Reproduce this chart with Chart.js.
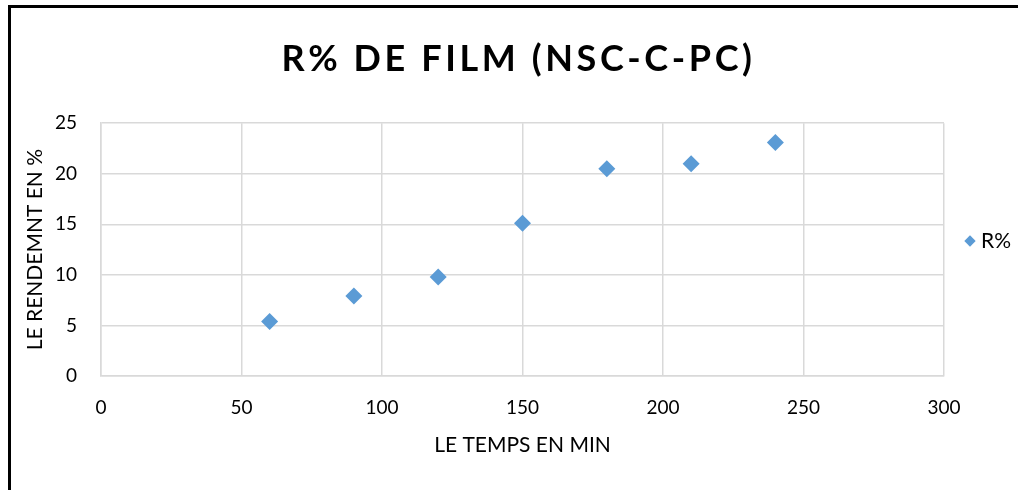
<!DOCTYPE html>
<html>
<head>
<meta charset="utf-8">
<script src="https://cdn.jsdelivr.net/npm/chart.js@4"></script>
<style>
  html, body { margin: 0; padding: 0; background: #fff; }
  #wrap { position: relative; width: 1018px; height: 490px; }
  #frame { position: absolute; left: 8px; top: 5px; right: 0; bottom: 0; border-left: 3px solid #000; border-top: 3px solid #000; }
  canvas { position: absolute; left: 0; top: 0; }
</style>
</head>
<body>
<div id="wrap">
  <div id="frame"></div>
  <canvas id="chart-rendement" width="1018" height="490"></canvas>
</div>
<script>
// data
var temps = [60, 90, 120, 150, 180, 210, 240];      // LE TEMPS EN MIN
var rendement = [5.4, 7.9, 9.8, 15.1, 20.5, 21.0, 23.1]; // R%
var seriesName = 'R%';

var points = temps.map(function (t, i) { return { x: t, y: rendement[i] }; });

// spaced-out title letters + fixed legend width, like the excel chart
var excelLook = {
  id: 'excelLook',
  beforeInit: function (chart) {
    var tb = chart.titleBlock;
    if (tb && !tb._patched) {
      var origDraw = tb.draw.bind(tb);
      tb.draw = function () {
        chart.ctx.save();
        chart.ctx.letterSpacing = '3.6px';
        origDraw();
        chart.ctx.restore();
      };
      tb._patched = true;
    }
    var lg = chart.legend;
    if (lg && !lg._patched) {
      var origFit = lg.fit.bind(lg);
      lg.fit = function () {
        origFit();
        this.width = 74;
      };
      lg._patched = true;
    }
  }
};

var ctx = document.getElementById("chart-rendement").getContext('2d');
var myChart = new Chart(ctx, {
    type: 'scatter',
    data: {
        datasets: [{
            label: seriesName,
            data: points,
            pointStyle: 'rectRot',
            pointRadius: 8.5,
            pointHoverRadius: 8.5,
            backgroundColor: '#5b9bd5',
            borderColor: '#5b9bd5',
            borderWidth: 0,
        }]},
    options: {
      responsive: false,
      animation: false,
      layout: { padding: { left: 19, right: 0, top: 20, bottom: 28 } },
      plugins: {
        title: {
          display: true,
          text: 'R% DE FILM (NSC-C-PC)',
          color: '#000',
          font: { family: 'Lato', size: 36, weight: 'bold' },
          padding: { top: 18, bottom: 42 }
        },
        legend: {
          position: 'right',
          labels: {
            usePointStyle: true,
            pointStyle: 'rectRot',
            boxWidth: 1,
            boxHeight: 8,
            color: '#000',
            padding: 25.5,
            font: { family: 'Lato', size: 21 }
          }
        },
        tooltip: { enabled: false }
      },
      scales: {
        x: {
          min: 0, max: 300,
          afterFit: function (scale) { scale.height = 86; },
          ticks: { stepSize: 50, color: '#000', padding: 20, font: { family: 'Lato', size: 19 } },
          grid: { color: '#d9d9d9', lineWidth: 1.5, drawTicks: false },
          border: { color: '#d9d9d9', width: 1.5 },
          title: { display: true, text: 'LE TEMPS EN MIN', color: '#000', font: { family: 'Lato', size: 21 } }
        },
        y: {
          min: 0, max: 25,
          afterFit: function (scale) { scale.width = 82; },
          ticks: { stepSize: 5, color: '#000', padding: 24, font: { family: 'Lato', size: 19 } },
          grid: { color: '#d9d9d9', lineWidth: 1.5, drawTicks: false },
          border: { color: '#d9d9d9', width: 1.5 },
          title: { display: true, text: 'LE RENDEMNT EN %', color: '#000', font: { family: 'Lato', size: 21 } }
        }
      }
    },
    plugins: [excelLook]
});
</script>
</body>
</html>
